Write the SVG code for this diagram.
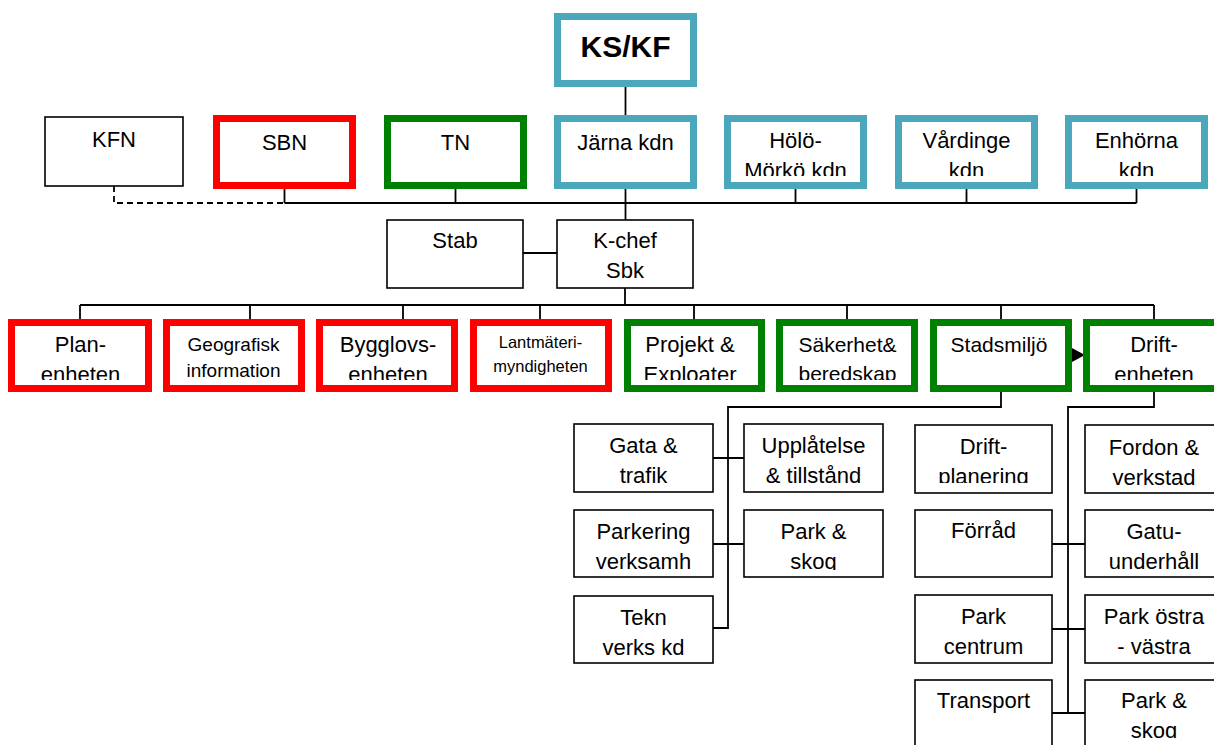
<svg xmlns="http://www.w3.org/2000/svg" width="1214" height="745" viewBox="0 0 1214 745">
<style>
.thick{fill:#fff;stroke-width:7}
.teal{stroke:#4BA8BC}
.red{stroke:#FF0000}
.green{stroke:#008000}
.thin{fill:#fff;stroke:#000;stroke-width:1.6}
.t{font-family:"Liberation Sans",Arial,sans-serif;font-size:22px;text-anchor:middle;fill:#000}
.b{font-weight:bold;font-size:30px}
.s19{font-size:19px}
.s17{font-size:16.5px}
.conn{fill:none;stroke:#000;stroke-width:1.8}
.dash{stroke-dasharray:6 4}
</style>
<defs>
<marker id="arrow" markerUnits="userSpaceOnUse" markerWidth="14" markerHeight="15" refX="14" refY="7.5" orient="auto">
<path d="M0,0 L14,7.5 L0,15 Z" fill="#000"/>
</marker>
<clipPath id="cR2"><rect x="0" y="0" width="1214" height="176"/></clipPath>
<clipPath id="cR4"><rect x="0" y="0" width="1214" height="380"/></clipPath>
<clipPath id="cDP"><rect x="0" y="0" width="1214" height="483"/></clipPath>
<clipPath id="cPS1"><rect x="0" y="0" width="1214" height="570"/></clipPath>
<clipPath id="cPS2"><rect x="0" y="0" width="1214" height="738"/></clipPath>
</defs>
<rect width="1214" height="745" fill="#fff"/>

<g id="connectors">
<path class="conn" d="M625.5,87 V115"/>
<path class="conn" d="M625.5,189 V220"/>
<path class="conn dash" d="M114,186 V203 H284.5"/>
<path class="conn" d="M284.5,203 H1136.5"/>
<path class="conn" d="M284.5,189 V203 M455.5,189 V203 M795.5,189 V203 M966.5,189 V203 M1136.5,189 V203"/>
<path class="conn" d="M523,253 H557"/>
<path class="conn" d="M625,288 V305"/>
<path class="conn" d="M80,305 H1154"/>
<path class="conn" d="M80,305 V319 M250,305 V319 M403,305 V319 M540,305 V319 M694,305 V319 M847,305 V319 M1001,305 V319 M1154,305 V319"/>
<path class="conn" d="M1072,355 H1085" marker-end="url(#arrow)"/>
<path class="conn" d="M1001,392 V407 H728 V628 H713"/>
<path class="conn" d="M713,458 H744 M713,544 H744"/>
<path class="conn" d="M1154,392 V407 H1068 V713"/>
<path class="conn" d="M1052,544 H1085 M1052,629 H1085 M1052,713 H1085"/>
</g>

<g id="kskf">
<rect class="thick teal" x="557.5" y="16.5" width="136" height="67"/>
<text class="t b" x="625.5" y="57">KS/KF</text>
</g>

<g id="kfn">
<rect class="thin" x="45" y="117" width="138" height="69"/>
<text class="t" x="114" y="147">KFN</text>
</g>
<g id="sbn">
<rect class="thick red" x="216.5" y="118.5" width="136" height="67"/>
<text class="t" x="284.5" y="150">SBN</text>
</g>
<g id="tn">
<rect class="thick green" x="387.5" y="118.5" width="136" height="67"/>
<text class="t" x="455.5" y="150">TN</text>
</g>
<g id="jarna">
<rect class="thick teal" x="557.5" y="118.5" width="136" height="67"/>
<text class="t" x="625.5" y="150">Järna kdn</text>
</g>
<g id="holo">
<rect class="thick teal" x="727.5" y="118.5" width="136" height="67"/>
<text class="t" x="795.5" clip-path="url(#cR2)"><tspan x="795.5" y="148">Hölö-</tspan><tspan x="795.5" y="178">Mörkö kdn</tspan></text>
</g>
<g id="vardinge">
<rect class="thick teal" x="898.5" y="118.5" width="136" height="67"/>
<text class="t" x="966.5" clip-path="url(#cR2)"><tspan x="966.5" y="148">Vårdinge</tspan><tspan x="966.5" y="178">kdn</tspan></text>
</g>
<g id="enhorna">
<rect class="thick teal" x="1068.5" y="118.5" width="136" height="67"/>
<text class="t" x="1136.5" clip-path="url(#cR2)"><tspan x="1136.5" y="148">Enhörna</tspan><tspan x="1136.5" y="178">kdn</tspan></text>
</g>

<g id="stab">
<rect class="thin" x="387" y="220" width="136" height="68"/>
<text class="t" x="455" y="248">Stab</text>
</g>
<g id="kchef">
<rect class="thin" x="557" y="220" width="136" height="68"/>
<text class="t"><tspan x="625" y="248">K-chef</tspan><tspan x="625" y="278">Sbk</tspan></text>
</g>

<g id="plan">
<rect class="thick red" x="11.5" y="322.5" width="137" height="66"/>
<text class="t" clip-path="url(#cR4)"><tspan x="80.5" y="352">Plan-</tspan><tspan x="80.5" y="382">enheten</tspan></text>
</g>
<g id="geografisk">
<rect class="thick red" x="166.5" y="322.5" width="135" height="66"/>
<text class="t s19"><tspan x="233.5" y="351">Geografisk</tspan><tspan x="233.5" y="377">information</tspan></text>
</g>
<g id="bygglov">
<rect class="thick red" x="319.5" y="322.5" width="135" height="66"/>
<text class="t" clip-path="url(#cR4)"><tspan x="388" y="352">Bygglovs-</tspan><tspan x="388" y="382">enheten</tspan></text>
</g>
<g id="lantmateri">
<rect class="thick red" x="473.5" y="322.5" width="135" height="66"/>
<text class="t s17"><tspan x="540.5" y="348">Lantmäteri-</tspan><tspan x="540.5" y="372">myndigheten</tspan></text>
</g>
<g id="projekt">
<rect class="thick green" x="627.5" y="322.5" width="134" height="66"/>
<text class="t" clip-path="url(#cR4)"><tspan x="690" y="352">Projekt &amp;</tspan><tspan x="690" y="382">Exploater</tspan></text>
</g>
<g id="sakerhet">
<rect class="thick green" x="779.5" y="322.5" width="135" height="66"/>
<text class="t" style="font-size:21px" clip-path="url(#cR4)"><tspan x="847.5" y="352">Säkerhet&amp;</tspan><tspan x="847.5" y="381">beredskap</tspan></text>
</g>
<g id="stadsmiljo">
<rect class="thick green" x="933.5" y="322.5" width="135" height="66"/>
<text class="t" style="font-size:21px" x="999" y="352">Stadsmiljö</text>
</g>
<g id="driftenheten">
<rect class="thick green" x="1086.5" y="322.5" width="135" height="66"/>
<text class="t" clip-path="url(#cR4)"><tspan x="1154" y="352">Drift-</tspan><tspan x="1154" y="382">enheten</tspan></text>
</g>

<g id="gata">
<rect class="thin" x="574" y="424" width="139" height="68"/>
<text class="t"><tspan x="643.5" y="453">Gata &amp;</tspan><tspan x="643.5" y="483">trafik</tspan></text>
</g>
<g id="upplatelse">
<rect class="thin" x="744" y="424" width="139" height="68"/>
<text class="t"><tspan x="813.5" y="453">Upplåtelse</tspan><tspan x="813.5" y="483">&amp; tillstånd</tspan></text>
</g>
<g id="parkering">
<rect class="thin" x="574" y="510" width="139" height="67"/>
<text class="t"><tspan x="643.5" y="539">Parkering</tspan><tspan x="643.5" y="569">verksamh</tspan></text>
</g>
<g id="parkskog1">
<rect class="thin" x="744" y="510" width="139" height="67"/>
<text class="t" clip-path="url(#cPS1)"><tspan x="813.5" y="539">Park &amp;</tspan><tspan x="813.5" y="569">skog</tspan></text>
</g>
<g id="tekn">
<rect class="thin" x="574" y="596" width="139" height="67"/>
<text class="t"><tspan x="643.5" y="625">Tekn</tspan><tspan x="643.5" y="655">verks kd</tspan></text>
</g>

<g id="driftplanering">
<rect class="thin" x="915" y="425" width="137" height="68"/>
<text class="t" clip-path="url(#cDP)"><tspan x="983.5" y="454">Drift-</tspan><tspan x="983.5" y="484">planering</tspan></text>
</g>
<g id="fordon">
<rect class="thin" x="1085" y="425" width="138" height="68"/>
<text class="t"><tspan x="1154" y="455">Fordon &amp;</tspan><tspan x="1154" y="485">verkstad</tspan></text>
</g>
<g id="forrad">
<rect class="thin" x="915" y="510" width="137" height="67"/>
<text class="t" x="983.5" y="538">Förråd</text>
</g>
<g id="gatuunderhall">
<rect class="thin" x="1085" y="510" width="138" height="67"/>
<text class="t"><tspan x="1154" y="539">Gatu-</tspan><tspan x="1154" y="569">underhåll</tspan></text>
</g>
<g id="parkcentrum">
<rect class="thin" x="915" y="595" width="137" height="68"/>
<text class="t"><tspan x="983.5" y="624">Park</tspan><tspan x="983.5" y="654">centrum</tspan></text>
</g>
<g id="parkostra">
<rect class="thin" x="1085" y="595" width="138" height="68"/>
<text class="t"><tspan x="1154" y="624">Park östra</tspan><tspan x="1154" y="654">- västra</tspan></text>
</g>
<g id="transport">
<rect class="thin" x="915" y="680" width="137" height="80"/>
<text class="t" x="983.5" y="708">Transport</text>
</g>
<g id="parkskog2">
<rect class="thin" x="1085" y="680" width="138" height="80"/>
<text class="t" clip-path="url(#cPS2)"><tspan x="1154" y="708">Park &amp;</tspan><tspan x="1154" y="738">skog</tspan></text>
</g>
</svg>
